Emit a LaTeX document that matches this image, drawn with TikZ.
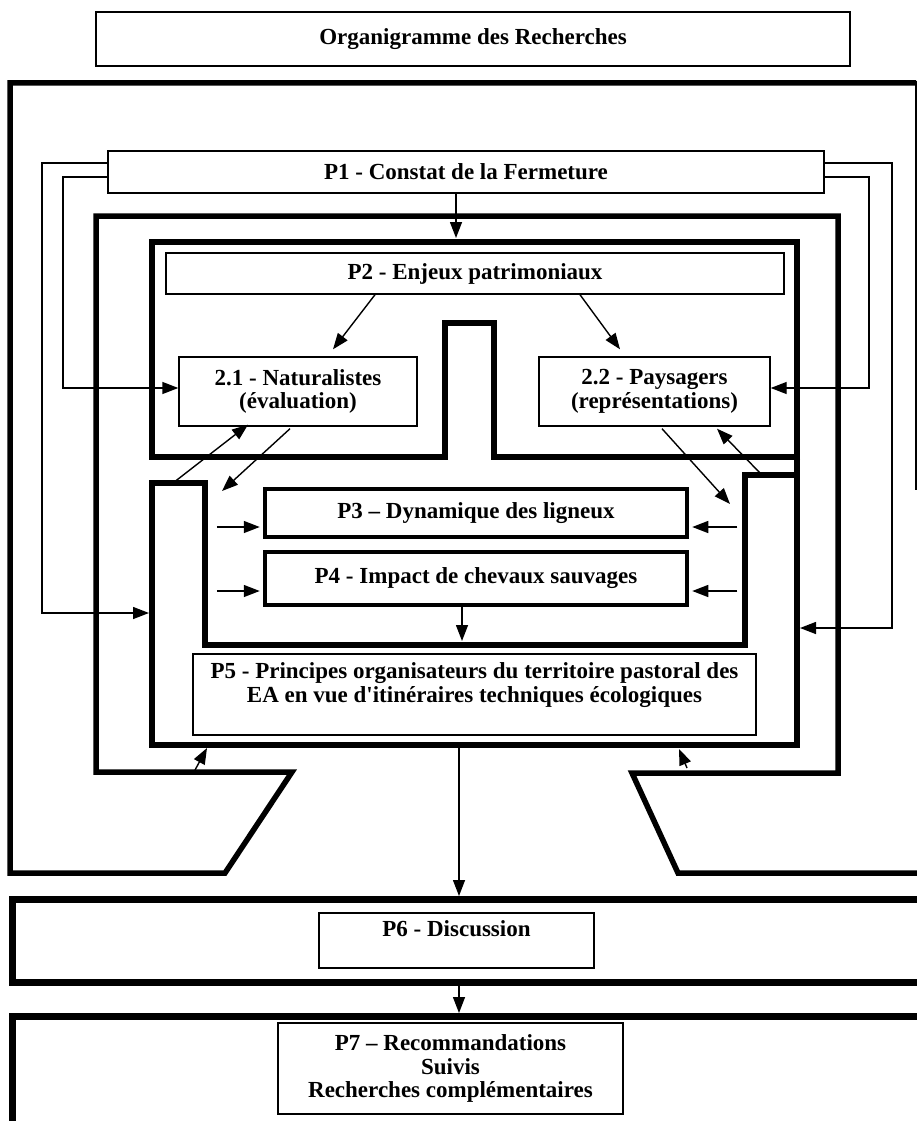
\documentclass[tikz,border=0pt]{standalone}
\usepackage{fontspec}
\setmainfont{Liberation Serif}
\usetikzlibrary{arrows.meta,calc}
\begin{document}
\begin{tikzpicture}[x=1pt,y=-1pt,
  every node/.style={font=\fontsize{23}{23.5}\selectfont\bfseries, align=center, inner sep=0pt},
  thinbox/.style={draw, line width=1.4pt, rectangle},
  thickbox/.style={draw, line width=4.5pt, rectangle},
  frame/.style={draw, line width=5.5pt, line join=miter, line cap=butt},
  bigframe/.style={draw, line width=7pt, line join=miter, line cap=butt},
  conn/.style={draw, line width=1.4pt},
  arr/.style={conn, -{Triangle[length=16pt,width=12pt]}},
]
\useasboundingbox (0,0) rectangle (917,1121);

% frames
\draw[frame] (916,83) -- (10,83) -- (10,873) -- (225,873) -- (292,772) -- (96,772)
  -- (96,216) -- (838,216) -- (838,773) -- (632,773) -- (678,873) -- (925,873);
\draw[line width=1.5pt] (916,81) -- (916,490);
\draw[frame] (800,457) -- (494,457) -- (494,323) -- (445,323) -- (445,457) -- (152,457)
  -- (152,242) -- (797,242) -- (797,745) -- (152,745) -- (152,483) -- (205,483)
  -- (205,645) -- (745,645) -- (745,475) -- (800,475);
\draw[bigframe] (925,899) -- (12,899) -- (12,982) -- (925,982);
\draw[bigframe] (925,1016) -- (12,1016) -- (12,1130);

% boxes
\node[thinbox, fill=white, minimum width=754, minimum height=54] (title) at (473,39) {Organigramme des Recherches};
\node[thinbox, fill=white, minimum width=716, minimum height=42] (p1) at (466,172) {P1 - Constat de la Fermeture};
\node[thinbox, fill=white, minimum width=618, minimum height=41] (p2) at (475,273.5) {P2 - Enjeux patrimoniaux};
\node[thinbox, fill=white, minimum width=238, minimum height=69] (n21) at (298,391.5) {2.1 - Naturalistes\\(évaluation)};
\node[thinbox, fill=white, minimum width=231, minimum height=69] (n22) at (654.5,391.5) {2.2 - Paysagers\\(représentations)};
\node[thickbox, minimum width=422, minimum height=48] (p3) at (476,513) {P3 – Dynamique des ligneux};
\node[thickbox, minimum width=422, minimum height=53] (p4) at (476,578.5) {P4 - Impact de chevaux sauvages};
\node[thinbox, fill=white, minimum width=563, minimum height=81] (p5) at (474.5,694.5) {P5 - Principes organisateurs du territoire pastoral des\\EA en vue d\textquotesingle itinéraires techniques écologiques\\\mbox{}};
\node[thinbox, minimum width=275, minimum height=55] (p6) at (456.5,940.5) {P6 - Discussion\\\mbox{}};
\node[thinbox, minimum width=345, minimum height=91] (p7) at (450.5,1068.5) {P7 – Recommandations\\Suivis\\Recherches complémentaires};

% named free ends
\coordinate (L1) at (42,163);  \coordinate (L1b) at (42,613);  \coordinate (f4L) at (149,613);
\coordinate (L2) at (63,177);  \coordinate (L2b) at (63,388);
\coordinate (R1) at (892,163); \coordinate (R1b) at (892,628); \coordinate (f4R) at (800,628);
\coordinate (R2) at (869,177); \coordinate (R2b) at (869,388);
\coordinate (f3top) at (456,238);
\coordinate (a1) at (222,491); \coordinate (b1) at (173,483);
\coordinate (a2) at (730,504); \coordinate (b2) at (760,473);
\coordinate (f4bot) at (462,641);
\coordinate (f5bot) at (459,747);
\coordinate (f6top) at (459,896);
\coordinate (f6bot) at (459,982); \coordinate (f7top) at (459,1013);
\coordinate (c1) at (195,770); \coordinate (c1t) at (207,748);
\coordinate (c2) at (687,768); \coordinate (c2t) at (679,749);

% connectors
\draw[arr] (p1.west |- L1) -- (L1) -- (L1b) -- (f4L);
\draw[arr] (p1.west |- L2) -- (L2) -- (L2b) -- (n21.west |- L2b);
\draw[arr] (p1.east |- R1) -- (R1) -- (R1b) -- (f4R);
\draw[arr] (p1.east |- R2) -- (R2) -- (R2b) -- (n22.east |- R2b);
\draw[arr] (p1.south -| f3top) -- (f3top);
\draw[arr] ($(p2.south)+(-100,0)$) -- ($(n21.north)+(35,-7)$);
\draw[arr] ($(p2.south)+(105,0)$) -- ($(n22.north)+(-34.5,-7)$);
\draw[arr] ($(n21.south)+(-8,2)$) -- (a1);
\draw[arr] (b1) -- ($(n21.south)+(-50,-2)$);
\draw[arr] ($(n22.south)+(7.5,2)$) -- (a2);
\draw[arr] (b2) -- ($(n22.south)+(62.5,2)$);
\draw[arr] ($(p3.west)+(-46,14)$) -- ($(p3.west)+(-3,14)$);
\draw[arr] ($(p4.west)+(-46,12.5)$) -- ($(p4.west)+(-3,12.5)$);
\draw[arr] ($(p3.east)+(48,14)$) -- ($(p3.east)+(3,14)$);
\draw[arr] ($(p4.east)+(48,12.5)$) -- ($(p4.east)+(3,12.5)$);
\draw[arr] (p4.south -| f4bot) -- (f4bot);
\draw[arr] (f5bot) -- (f6top);
\draw[arr] (f6bot) -- (f7top);
\draw[arr] (c1) -- (c1t);
\draw[arr] (c2) -- (c2t);
\end{tikzpicture}
\end{document}
